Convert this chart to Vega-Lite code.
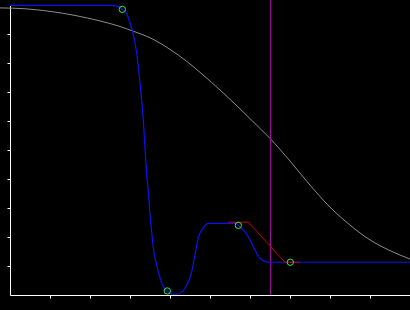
{
  "$schema": "https://vega.github.io/schema/vega-lite/v6.json",
  "autosize": "none",
  "width": 400,
  "height": 290,
  "padding": {"left": 10, "top": 5, "right": 0, "bottom": 15},
  "background": "#000000",
  "config": {"view": {"stroke": null}},
  "datasets": {
    "gray": [
      {"x": -0.25, "y": 0.990}, {"x": 0.375, "y": 0.987}, {"x": 1.0, "y": 0.978},
      {"x": 1.625, "y": 0.964}, {"x": 2.25, "y": 0.945}, {"x": 2.75, "y": 0.926},
      {"x": 3.075, "y": 0.910}, {"x": 3.575, "y": 0.882}, {"x": 4.0, "y": 0.847},
      {"x": 4.425, "y": 0.805}, {"x": 4.825, "y": 0.759}, {"x": 5.25, "y": 0.707},
      {"x": 5.675, "y": 0.652}, {"x": 6.075, "y": 0.598}, {"x": 6.5, "y": 0.540},
      {"x": 7.0, "y": 0.462}, {"x": 7.5, "y": 0.379}, {"x": 8.0, "y": 0.303},
      {"x": 8.5, "y": 0.241}, {"x": 9.0, "y": 0.190}, {"x": 9.5, "y": 0.153},
      {"x": 10.0, "y": 0.124}
    ],
    "blue": [
      {"x": 0.0, "y": 0.999}, {"x": 2.5, "y": 0.999}, {"x": 2.65, "y": 0.997},
      {"x": 2.75, "y": 0.992}, {"x": 2.808, "y": 0.985}, {"x": 2.917, "y": 0.971},
      {"x": 3.0, "y": 0.938}, {"x": 3.075, "y": 0.903}, {"x": 3.167, "y": 0.834},
      {"x": 3.25, "y": 0.731}, {"x": 3.333, "y": 0.603}, {"x": 3.383, "y": 0.490},
      {"x": 3.417, "y": 0.414}, {"x": 3.458, "y": 0.356}, {"x": 3.5, "y": 0.276},
      {"x": 3.542, "y": 0.218}, {"x": 3.583, "y": 0.162}, {"x": 3.667, "y": 0.103},
      {"x": 3.75, "y": 0.059}, {"x": 3.833, "y": 0.029}, {"x": 3.933, "y": 0.014},
      {"x": 4.0, "y": 0.006}, {"x": 4.125, "y": 0.003}, {"x": 4.25, "y": 0.006},
      {"x": 4.375, "y": 0.024}, {"x": 4.458, "y": 0.046}, {"x": 4.542, "y": 0.080},
      {"x": 4.625, "y": 0.138}, {"x": 4.708, "y": 0.197}, {"x": 4.792, "y": 0.224},
      {"x": 4.875, "y": 0.239}, {"x": 4.958, "y": 0.247}, {"x": 5.125, "y": 0.247},
      {"x": 5.625, "y": 0.247}, {"x": 5.708, "y": 0.240}, {"x": 5.775, "y": 0.231},
      {"x": 5.875, "y": 0.218}, {"x": 6.0, "y": 0.190}, {"x": 6.125, "y": 0.155},
      {"x": 6.25, "y": 0.127}, {"x": 6.375, "y": 0.115}, {"x": 6.5, "y": 0.113},
      {"x": 10.0, "y": 0.113}
    ],
    "red": [
      {"x": 5.458, "y": 0.251}, {"x": 5.958, "y": 0.251},
      {"x": 6.875, "y": 0.113}, {"x": 7.25, "y": 0.113}
    ],
    "marks": [
      {"x": 2.808, "y": 0.985}, {"x": 3.933, "y": 0.014},
      {"x": 5.708, "y": 0.240}, {"x": 7.008, "y": 0.113}
    ],
    "vline": [{"x": 6.5125, "y": 1.017, "y2": 0}]
  },
  "encoding": {
    "x": {"field": "x", "type": "quantitative",
      "scale": {"domain": [0, 10], "nice": false, "zero": false},
      "axis": {"values": [1, 2, 3, 4, 5, 6, 7, 8, 9, 10], "labels": false, "title": null,
        "grid": false, "domainColor": "#ffffff", "tickColor": "#ffffff", "tickSize": 3, "domainWidth": 1, "tickWidth": 1}},
    "y": {"field": "y", "type": "quantitative",
      "scale": {"domain": [0, 1], "nice": false, "zero": false},
      "axis": {"values": [0.1, 0.2, 0.3, 0.4, 0.5, 0.6, 0.7, 0.8, 0.9], "labels": false, "title": null,
        "grid": false, "domainColor": "#ffffff", "tickColor": "#ffffff", "tickSize": 3, "domainWidth": 1, "tickWidth": 1}}
  },
  "layer": [
    {"data": {"name": "gray"}, "mark": {"type": "line", "color": "#8c8c8c", "strokeWidth": 1, "interpolate": "monotone"}},
    {"data": {"name": "vline"}, "mark": {"type": "rule", "color": "#9a109a", "strokeWidth": 1},
      "encoding": {"y2": {"field": "y2"}}},
    {"data": {"name": "blue"}, "mark": {"type": "line", "color": "#0a14f0", "strokeWidth": 1.2, "interpolate": "monotone"}},
    {"data": {"name": "red"}, "mark": {"type": "line", "color": "#c80000", "strokeWidth": 1}},
    {"data": {"name": "marks"}, "mark": {"type": "point", "shape": "circle", "filled": false, "color": "#33ee33", "strokeWidth": 1, "size": 40, "opacity": 1}}
  ]
}
